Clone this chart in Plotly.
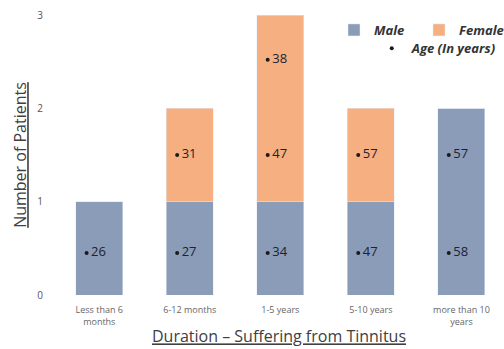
import plotly.graph_objects as go

# Duration groups (x axis) and patient counts by sex
categories = ["Less than 6<br>months", "6-12 months", "1-5 years", "5-10 years", "more than 10<br>years"]
male = [1, 1, 1, 1, 2]
female = [0, 1, 2, 1, 0]

# Individual patient ages, placed in the stack segment they belong to
age_group = [0, 1, 1, 2, 2, 2, 3, 3, 4, 4]
age_level = [0.45, 0.45, 1.5, 0.45, 1.5, 2.52, 0.45, 1.5, 0.45, 1.5]
age_value = [26, 27, 31, 34, 47, 38, 47, 57, 58, 57]

MALE_C = "#8A9CB8"
FEMALE_C = "#F5AF80"
FONT = "Open Sans"
dot_offset = -0.14
text_offset = -0.09

idx = list(range(len(categories)))

fig = go.Figure()
fig.add_bar(x=idx, y=male, name="<b><i>Male</i></b>", marker_color=MALE_C,
            width=0.52, legend="legend")
fig.add_bar(x=idx, y=female, name="<b><i>Female</i></b>", marker_color=FEMALE_C,
            width=0.52, legend="legend")
fig.add_scatter(x=[g + dot_offset for g in age_group], y=age_level, mode="markers",
                marker=dict(color="#1a1a1a", size=4), name="<b><i>Age (In years)</i></b>",
                legend="legend2")
fig.add_scatter(x=[g + text_offset for g in age_group], y=age_level, mode="text",
                text=[str(a) for a in age_value], textposition="middle right",
                textfont=dict(family=FONT, size=13, color="#1c2230"), showlegend=False)

fig.update_layout(
    width=504, height=349,
    margin=dict(l=54, r=0, t=15, b=54),
    plot_bgcolor="white", paper_bgcolor="white",
    barmode="stack", bargap=0.48,
    font=dict(family=FONT, color="#444444"),
    legend=dict(orientation="h", traceorder="normal", x=1.0, xanchor="right",
                y=1.0, yanchor="top",
                font=dict(family=FONT, size=13, color="#333333"),
                bgcolor="rgba(0,0,0,0)", itemwidth=30, entrywidth=40),
    legend2=dict(orientation="h", x=0.995, xanchor="right", y=0.935, yanchor="top",
                 font=dict(family=FONT, size=13, color="#333333"),
                 bgcolor="rgba(0,0,0,0)", itemwidth=30),
)
fig.update_xaxes(
    range=[-0.5, 4.47], tickmode="array", tickvals=idx, ticktext=categories,
    showgrid=False, showline=False, zeroline=False, ticks="", ticklabelstandoff=8,
    tickfont=dict(family=FONT, size=9, color="#666666"),
    title=dict(text="<u>Duration – Suffering from Tinnitus</u>",
               font=dict(family=FONT, size=16, color="#404040"), standoff=4),
)
fig.update_yaxes(
    range=[0, 3], tickvals=[0, 1, 2, 3], showgrid=False, showline=False,
    zeroline=False, ticks="", ticklabelstandoff=10,
    tickfont=dict(family=FONT, size=10, color="#555555"),
    title=dict(text="<u>Number of Patients</u>",
               font=dict(family=FONT, size=16, color="#404040"), standoff=6),
)

fig.write_html("out.html")
